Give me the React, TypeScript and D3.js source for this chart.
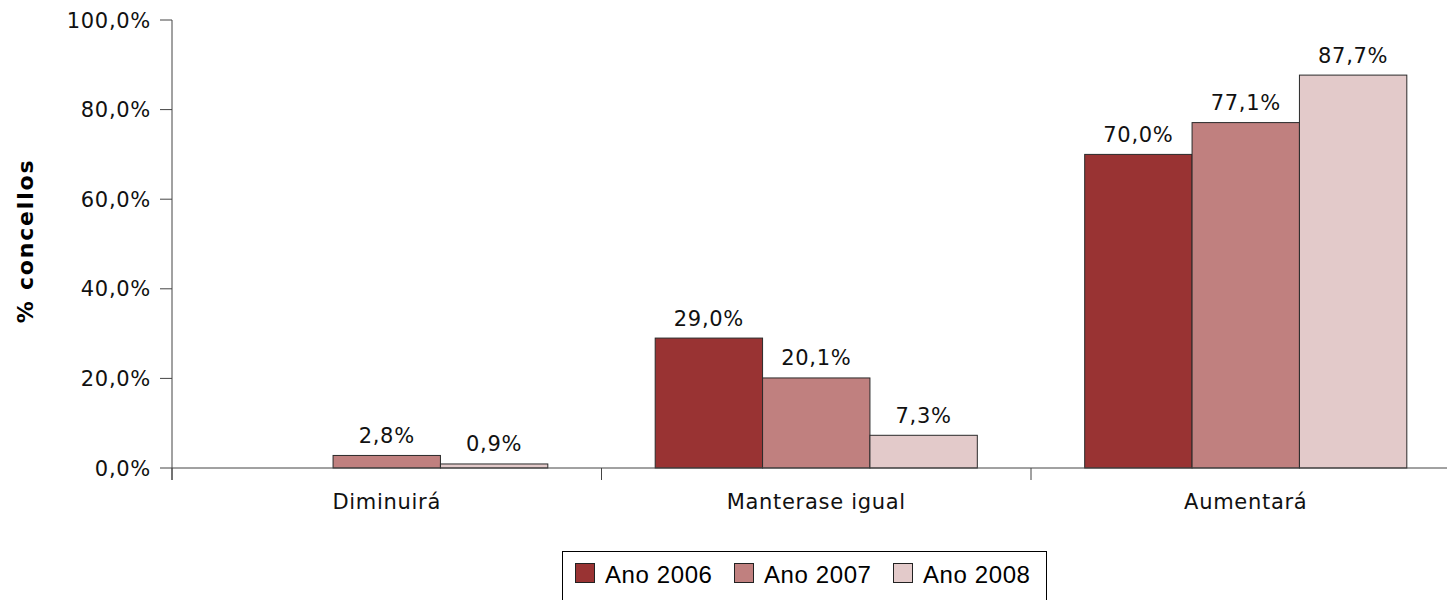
import React from 'react'
import * as d3 from 'd3'

const categories = ['Diminuirá', 'Manterase igual', 'Aumentará']
const seriesNames = ['Ano 2006', 'Ano 2007', 'Ano 2008']
const ano2006 = [0, 29.0, 70.0]
const ano2007 = [2.8, 20.1, 77.1]
const ano2008 = [0.9, 7.3, 87.7]
const yTicks = [0, 20, 40, 60, 80, 100]
const colors = ['#993333', '#c0807f', '#e3caca']

const W = 1447
const H = 600
const margin = { top: 20, left: 172, bottom: 468, right: 1460.5 }

const fmt = (v: number) => v.toFixed(1).replace('.', ',') + '%'

const App = () => {
  const series = [ano2006, ano2007, ano2008]

  const x = d3.scaleBand<string>().domain(categories).range([margin.left, margin.right]).padding(0)
  const xInner = d3
    .scaleBand<string>()
    .domain(seriesNames)
    .range([0, x.bandwidth()])
    .paddingInner(0)
    .paddingOuter(0.5)
  const y = d3.scaleLinear().domain([0, 100]).range([margin.bottom, margin.top])

  const font = 'DejaVu Sans, sans-serif'
  const ls = 0.7
  const boundaries = [...categories.map((c) => x(c) as number), margin.right]

  return (
    <svg
      width={W}
      height={H}
      style={{ position: 'absolute', left: 0, top: 0, background: '#fff' }}
    >
      {/* bars */}
      {categories.map((c, ci) => (
        <g key={c} transform={`translate(${x(c)},0)`}>
          {seriesNames.map((s, si) => {
            const v = series[si][ci]
            if (v === 0) return null
            const bx = xInner(s) as number
            return (
              <g key={s}>
                <rect
                  x={bx}
                  y={y(v)}
                  width={xInner.bandwidth()}
                  height={y(0) - y(v)}
                  fill={colors[si]}
                  stroke="#2a2a2a"
                  strokeWidth={1}
                />
                <text
                  x={bx + xInner.bandwidth() / 2}
                  y={y(v) - 12.5}
                  textAnchor="middle"
                  fontFamily={font}
                  fontSize={21}
                  letterSpacing={ls}
                  fill="#111"
                >
                  {fmt(v)}
                </text>
              </g>
            )
          })}
        </g>
      ))}

      {/* y axis */}
      <line x1={margin.left} x2={margin.left} y1={y(100)} y2={y(0) + 12} stroke="#444" />
      {yTicks.map((t) => (
        <g key={t}>
          <line x1={margin.left - 12} x2={margin.left} y1={y(t)} y2={y(t)} stroke="#444" />
          <text
            x={margin.left - 21}
            y={y(t)}
            dy="0.36em"
            textAnchor="end"
            fontFamily={font}
            fontSize={21}
            letterSpacing={ls}
            fill="#111"
          >
            {fmt(t)}
          </text>
        </g>
      ))}

      {/* x axis */}
      <line x1={margin.left} x2={margin.right} y1={y(0)} y2={y(0)} stroke="#444" />
      {boundaries.map((b, i) => (
        <line key={i} x1={b} x2={b} y1={y(0)} y2={y(0) + 12} stroke="#444" />
      ))}
      {categories.map((c) => (
        <text
          key={c}
          x={(x(c) as number) + x.bandwidth() / 2}
          y={509}
          textAnchor="middle"
          fontFamily={font}
          fontSize={21}
          letterSpacing={ls}
          fill="#111"
        >
          {c}
        </text>
      ))}

      {/* y title */}
      <text
        transform="translate(33,241) rotate(-90)"
        textAnchor="middle"
        fontFamily={font}
        fontWeight="bold"
        fontSize={22}
        letterSpacing={1.8}
        fill="#000"
      >
        % concellos
      </text>

      {/* legend */}
      <rect x={562.5} y={551.5} width={484} height={60} fill="#fff" stroke="#000" />
      {seriesNames.map((s, i) => {
        const lx = 575 + i * 159
        return (
          <g key={s}>
            <rect x={lx + 0.5} y={563.5} width={19} height={19} fill={colors[i]} stroke="#222" />
            <text
              x={lx + 30}
              y={583}
              fontFamily="Liberation Sans, Arial, sans-serif"
              fontSize={24}
              letterSpacing={0.6}
              fill="#000"
            >
              {s}
            </text>
          </g>
        )
      })}
    </svg>
  )
}

export default App
